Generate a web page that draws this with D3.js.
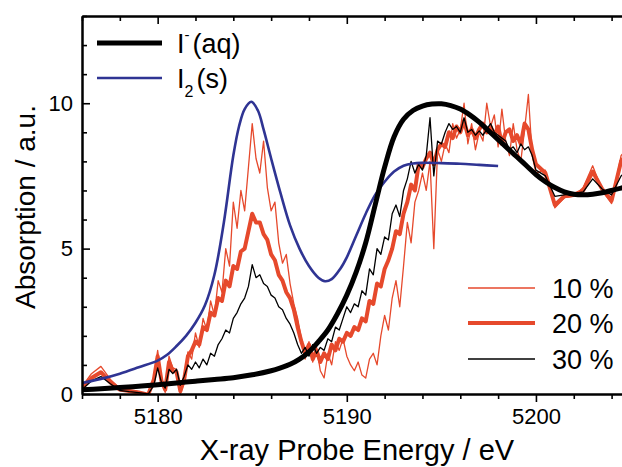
<!DOCTYPE html>
<html>
<head>
<meta charset="utf-8">
<script src="https://cdn.jsdelivr.net/npm/d3@7"></script>
<style>
  body { margin: 0; background: #fff; }
  svg { display: block; font-family: "Liberation Sans", Arial, sans-serif; }
</style>
</head>
<body>
<script>
// measured spectra (10 %, 20 %, 30 %) share one energy grid
const energy = [
  5176, 5176.5, 5177, 5177.5, 5178, 5178.5, 5179, 5179.5,
  5179.8,
  5180, 5180.2, 5180.4, 5180.6, 5180.8,
  5181, 5181.2, 5181.4, 5181.6, 5181.8,
  5182, 5182.2, 5182.4, 5182.6, 5182.8,
  5183, 5183.2, 5183.4, 5183.6, 5183.8,
  5184, 5184.2, 5184.4, 5184.6, 5184.8,
  5185, 5185.2, 5185.4, 5185.6, 5185.8,
  5186, 5186.2, 5186.4, 5186.6, 5186.8,
  5187, 5187.2, 5187.4, 5187.6, 5187.8,
  5188, 5188.2, 5188.4, 5188.6, 5188.8,
  5189, 5189.2, 5189.4, 5189.6, 5189.8,
  5190, 5190.2, 5190.4, 5190.6, 5190.8,
  5191, 5191.2, 5191.4, 5191.6, 5191.8,
  5192, 5192.2, 5192.4, 5192.6, 5192.8,
  5193, 5193.2, 5193.4, 5193.6, 5193.8,
  5194, 5194.2, 5194.4, 5194.6, 5194.8,
  5195, 5195.2, 5195.4, 5195.6, 5195.8,
  5196, 5196.2, 5196.4, 5196.6, 5196.8,
  5197, 5197.2, 5197.4, 5197.6, 5197.8,
  5198, 5198.2, 5198.4, 5198.6, 5198.8,
  5199, 5199.2, 5199.4, 5199.6, 5199.8,
  5200, 5200.5, 5201, 5201.5, 5202, 5202.5, 5203, 5203.5, 5204, 5204.5, 5205
]

const abs10 = [
  0.25, 0.7, 0.95, 0.5, 0.2, 0.12, 0.08, -0.05,
  0.6,
  1.5, 0.5, 0.05, 1.3, 0.9,
  0.85, 0.0, 0.4, 1.45, 1.2,
  2.1, 1.6, 2.6, 2.2, 3.2,
  2.7, 3.9, 3.5, 5.0, 4.4,
  6.6, 5.7, 7.0, 6.3, 7.8,
  9.3, 8.1, 7.6, 8.7, 7.1,
  6.3, 6.6, 5.2, 4.5, 4.8,
  3.8, 3.1, 2.6, 1.9, 1.2,
  1.8, 1.1, 1.6, 0.8, 0.55,
  1.4, 1.0, 1.8, 1.5, 1.9,
  1.3, 1.0, 0.8, 1.1, 0.65,
  0.55, 1.2, 1.4, 1.0, 2.0,
  2.7, 2.2, 3.3, 3.9, 3.0,
  4.4, 5.9, 5.2, 6.6, 7.0,
  7.6, 7.0, 8.0, 5.0, 8.4,
  8.0, 8.6, 8.3, 9.3, 8.8,
  9.1, 10.0, 8.6, 9.3, 8.4,
  9.0, 8.7, 10.0, 9.2, 9.6,
  8.5, 9.8, 8.7, 8.2, 9.3,
  8.4, 8.0, 9.1, 10.3, 8.2,
  7.6, 7.7, 6.4, 6.75, 6.8, 7.1, 7.85, 7.0, 6.55, 8.2, 8.6
]

const abs20 = [
  0.2, 0.55, 0.75, 0.4, 0.15, 0.1, 0.05, -0.02,
  0.5,
  1.3, 0.45, 0.15, 1.1, 0.8,
  0.75, 0.1, 0.5, 1.3, 1.5,
  1.8, 1.7, 2.3, 2.2, 2.8,
  2.7, 3.3, 3.2, 3.9, 3.7,
  4.4, 4.3, 4.9, 5.0, 5.6,
  6.2, 5.9, 5.9, 5.5, 5.3,
  4.8, 4.6, 4.1, 3.9, 3.5,
  3.3, 2.9, 2.3, 1.8, 1.4,
  1.7, 1.2, 1.5, 1.1, 1.4,
  1.2, 1.7, 1.5, 1.9, 1.8,
  2.1, 2.0, 2.3, 2.2, 2.6,
  2.5, 3.2, 3.1, 3.8, 3.7,
  4.3, 4.6, 5.0, 5.6, 5.5,
  6.2, 6.6, 7.2, 7.0, 7.9,
  7.8, 8.1, 8.3, 7.9, 8.4,
  8.6, 8.5, 9.0, 8.8, 9.2,
  9.0, 9.4, 8.9, 9.1, 8.8,
  9.1, 9.3, 9.0, 9.2, 8.9,
  9.2, 8.6, 9.0, 9.1, 8.7,
  8.9, 8.6, 9.3, 9.1, 8.4,
  7.9, 7.6, 6.5, 6.8, 6.85, 7.0, 7.65, 7.05, 6.65, 8.0, 8.4
]

const abs30 = [
  0.15, 0.45, 0.6, 0.35, 0.12, 0.08, 0.05, 0.0,
  0.3,
  0.9, 0.4, 0.2, 0.85, 0.7,
  0.85, 0.3, 0.6, 1.0, 0.85,
  1.1, 0.9, 1.2, 1.0, 1.4,
  1.3, 1.7, 1.9, 2.2, 2.1,
  2.6, 2.8, 3.1, 3.3, 3.7,
  4.45, 4.0, 4.1, 3.8, 3.7,
  3.4, 3.3, 3.0, 2.9, 2.6,
  2.4, 2.1, 1.7, 1.4, 1.6,
  1.3, 1.7, 1.4, 1.6, 1.5,
  1.9, 1.8, 2.3, 2.2, 2.6,
  3.0, 2.8, 3.1, 3.0, 3.55,
  3.4, 4.3, 4.1, 5.0, 4.8,
  5.4, 5.3, 6.2, 6.5, 6.1,
  7.0, 7.4, 8.0, 7.6, 7.9,
  7.7, 8.2, 9.5, 7.5, 8.7,
  8.6, 9.0, 9.3, 9.1, 9.2,
  9.0, 9.5, 9.0, 9.1, 8.9,
  9.05, 8.9, 9.1, 9.3, 9.0,
  8.9, 8.8, 8.7, 8.4, 8.5,
  8.3, 8.6, 8.4, 8.5, 8.2,
  7.7, 7.5, 6.8, 6.85, 6.9, 6.95, 7.4, 7.05, 6.85, 7.5, 7.8
]

// reference spectra
const aqEnergy = [
  5176, 5177, 5178, 5179, 5180, 5181, 5182, 5183, 5184, 5185, 5186,
  5186.5, 5187, 5187.5, 5188, 5188.5, 5189, 5189.5, 5190, 5190.5, 5191,
  5191.5, 5192, 5192.5, 5193, 5193.5, 5194, 5194.5, 5195, 5195.5, 5196,
  5196.5, 5197, 5197.5, 5198, 5198.5, 5199, 5199.5, 5200, 5200.5, 5201,
  5201.5, 5202, 5202.5, 5203, 5203.5, 5204, 5204.5, 5205
]
const aqAbs = [
  0.15, 0.18, 0.22, 0.27, 0.32, 0.38, 0.44, 0.5, 0.56, 0.66, 0.8,
  0.9, 1.02, 1.2, 1.45, 1.8, 2.2, 2.75, 3.4, 4.2, 5.2,
  6.5, 7.8, 8.85, 9.45, 9.75, 9.9, 9.97, 9.98, 9.92, 9.8,
  9.6, 9.35, 9.05, 8.75, 8.45, 8.15, 7.85, 7.55, 7.3, 7.1,
  6.95, 6.87, 6.85, 6.87, 6.92, 7.0, 7.08, 7.15
]

const solidEnergy = [
  5176, 5177, 5178, 5179, 5180, 5180.5, 5181, 5181.5, 5182, 5182.5,
  5183, 5183.5, 5184, 5184.3, 5184.6, 5184.95, 5185.3, 5185.6, 5186, 5186.5,
  5187, 5187.5, 5188, 5188.5, 5188.85, 5189.2, 5189.65, 5190, 5190.5, 5191,
  5191.5, 5192, 5192.5, 5193, 5193.5, 5194, 5195, 5196, 5197, 5198
]
const solidAbs = [
  0.38, 0.52, 0.7, 0.92, 1.15, 1.35, 1.65, 2.0, 2.45, 3.05,
  4.1, 5.9, 8.2, 9.2, 9.8, 10.05, 9.75, 9.1, 8.1, 6.9,
  5.8, 5.0, 4.4, 4.0, 3.88, 3.95, 4.3, 4.7, 5.45, 6.2,
  6.85, 7.3, 7.65, 7.85, 7.93, 7.95, 7.94, 7.92, 7.88, 7.84
]

const xTicks = [5180, 5190, 5200]
const yTicks = [0, 5, 10]
const fractionLabels = ['10 %', '20 %', '30 %']

const w = 622
const h = 467
const mLeft = 82, mRight = 622, mTop = 16, mBottom = 394
const red = '#e6492c'
const blue = '#2f3493'

const svg = d3.select('body').append('svg')
  .attr('width', w)
  .attr('height', h)

const x = d3.scaleLinear().domain([5176, 5204.55]).range([mLeft, mRight])
const y = d3.scaleLinear().domain([0, 13]).range([mBottom, mTop])

svg.append('clipPath').attr('id', 'plot')
  .append('rect')
  .attr('x', mLeft).attr('y', mTop)
  .attr('width', mRight - mLeft).attr('height', mBottom - mTop)

const plot = svg.append('g').attr('clip-path', 'url(#plot)')

const line = d3.line().x(d => x(d[0])).y(d => y(d[1]))
const smooth = d3.line().x(d => x(d[0])).y(d => y(d[1])).curve(d3.curveCatmullRom)

const series = [
  { vals: abs10, color: red, width: 1.3 },
  { vals: abs20, color: red, width: 4 },
  { vals: abs30, color: '#000', width: 1.3 }
]

series.forEach(s => {
  plot.append('path')
    .datum(energy.map((e, i) => [e, s.vals[i]]))
    .attr('d', line)
    .attr('fill', 'none')
    .attr('stroke', s.color)
    .attr('stroke-width', s.width)
    .attr('stroke-linejoin', 'round')
})

plot.append('path')
  .datum(solidEnergy.map((e, i) => [e, solidAbs[i]]))
  .attr('d', smooth)
  .attr('fill', 'none')
  .attr('stroke', blue)
  .attr('stroke-width', 2.6)

plot.append('path')
  .datum(aqEnergy.map((e, i) => [e, aqAbs[i]]))
  .attr('d', smooth)
  .attr('fill', 'none')
  .attr('stroke', '#000')
  .attr('stroke-width', 5)

// axes
const minorX = d3.range(5176, 5205, 2).filter(v => v % 10 !== 0)
const minorY = d3.range(0, 14, 1).filter(v => v % 5 !== 0)

function styleAxis(g) {
  g.select('.domain').attr('stroke-width', 2)
  g.selectAll('.tick line').attr('stroke-width', 1.6)
  g.selectAll('text').attr('font-size', 22).attr('fill', '#000')
    .attr('font-family', '"Liberation Sans", Arial, sans-serif')
}

svg.append('g')
  .attr('transform', `translate(0,${mBottom})`)
  .call(d3.axisBottom(x).tickValues(minorX).tickSize(5).tickFormat('').tickSizeOuter(0))
  .call(styleAxis)

svg.append('g')
  .attr('transform', `translate(0,${mBottom})`)
  .call(d3.axisBottom(x).tickValues(xTicks).tickSize(8).tickPadding(6).tickFormat(d3.format('d')).tickSizeOuter(0))
  .call(styleAxis)

svg.append('g')
  .attr('transform', `translate(0,${mTop})`)
  .call(d3.axisTop(x).tickValues(minorX).tickSize(-5).tickFormat('').tickSizeOuter(0))
  .call(styleAxis)

svg.append('g')
  .attr('transform', `translate(0,${mTop})`)
  .call(d3.axisTop(x).tickValues(xTicks).tickSize(-8).tickFormat('').tickSizeOuter(0))
  .call(styleAxis)

svg.append('g')
  .attr('transform', `translate(${mLeft},0)`)
  .call(d3.axisLeft(y).tickValues(minorY).tickSize(-5).tickFormat('').tickSizeOuter(0))
  .call(styleAxis)

svg.append('g')
  .attr('transform', `translate(${mLeft},0)`)
  .call(d3.axisLeft(y).tickValues(yTicks).tickSize(-8).tickPadding(9).tickFormat(d3.format('d')).tickSizeOuter(0))
  .call(styleAxis)

// axis titles
svg.append('text')
  .attr('x', 357)
  .attr('y', 460)
  .attr('text-anchor', 'middle')
  .attr('font-size', 29)
  .text('X-ray Probe Energy / eV')

svg.append('text')
  .attr('transform', 'translate(35,207) rotate(-90)')
  .attr('text-anchor', 'middle')
  .attr('font-size', 28)
  .text('Absorption / a.u.')

// legend, references
svg.append('line')
  .attr('x1', 97).attr('x2', 162).attr('y1', 43).attr('y2', 43)
  .attr('stroke', '#000').attr('stroke-width', 5)
svg.append('line')
  .attr('x1', 97).attr('x2', 162).attr('y1', 78).attr('y2', 78)
  .attr('stroke', blue).attr('stroke-width', 2.6)

const t1 = svg.append('text').attr('x', 177).attr('y', 53).attr('font-size', 27)
t1.append('tspan').text('I')
t1.append('tspan').attr('font-size', 15).attr('dy', -13).text('-')
t1.append('tspan').attr('dy', 13).attr('dx', 3).text('(aq)')

const t2 = svg.append('text').attr('x', 177).attr('y', 88).attr('font-size', 27)
t2.append('tspan').text('I')
t2.append('tspan').attr('font-size', 16).attr('dy', 9).text('2')
t2.append('tspan').attr('dy', -9).attr('dx', 3).text('(s)')

// legend, fractions
const legY = [288, 323, 359]
series.forEach((s, i) => {
  svg.append('line')
    .attr('x1', 468).attr('x2', 535).attr('y1', legY[i]).attr('y2', legY[i])
    .attr('stroke', s.color).attr('stroke-width', s.width)
  svg.append('text')
    .attr('x', 552).attr('y', legY[i] + 10)
    .attr('font-size', 27)
    .text(fractionLabels[i])
})
</script>
</body>
</html>
